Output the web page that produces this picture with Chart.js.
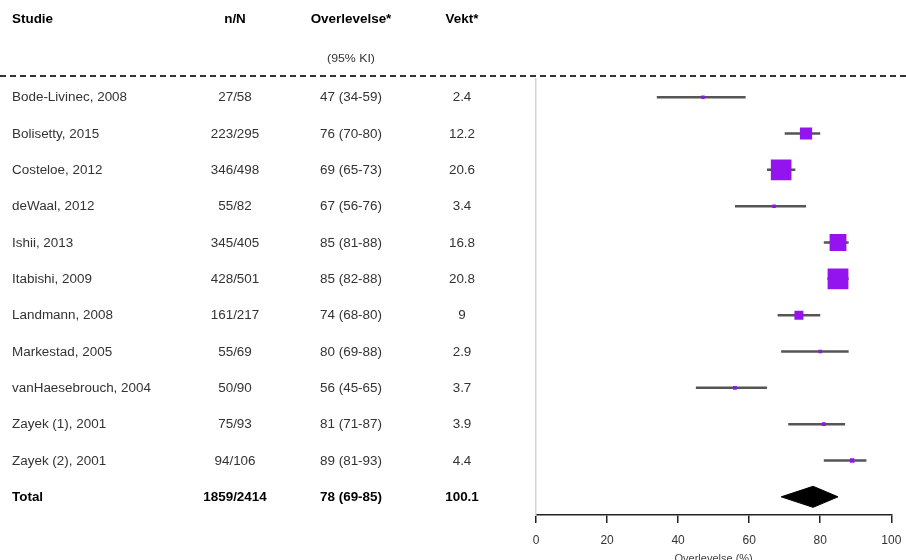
<!DOCTYPE html>
<html>
<head>
<meta charset="utf-8">
<script src="https://cdn.jsdelivr.net/npm/chart.js@4.4.1/dist/chart.umd.min.js"></script>
<style>
  html, body { margin: 0; padding: 0; background: #fff; }
  #wrap { width: 906px; height: 560px; }
</style>
</head>
<body>
<div id="wrap"><canvas id="forest"></canvas></div>
<script>
// studies in the meta-analysis
const studies = ['Bode-Livinec, 2008', 'Bolisetty, 2015', 'Costeloe, 2012', 'deWaal, 2012',
  'Ishii, 2013', 'Itabishi, 2009', 'Landmann, 2008', 'Markestad, 2005',
  'vanHaesebrouch, 2004', 'Zayek (1), 2001', 'Zayek (2), 2001'];
const nN = ['27/58', '223/295', '346/498', '55/82', '345/405', '428/501', '161/217',
  '55/69', '50/90', '75/93', '94/106'];
const est = [47, 76, 69, 67, 85, 85, 74, 80, 56, 81, 89];
const lo = [34, 70, 65, 56, 81, 82, 68, 69, 45, 71, 81];
const hi = [59, 80, 73, 76, 88, 88, 80, 88, 65, 87, 93];
const weight = [2.4, 12.2, 20.6, 3.4, 16.8, 20.8, 9, 2.9, 3.7, 3.9, 4.4];

// pooled estimate
const totalN = '1859/2414';
const totalEst = 78;
const totalLo = 69;
const totalHi = 85;
const totalWeight = 100.1;

const xTicks = [0, 20, 40, 60, 80, 100];

const totalRow = studies.length;
const purple = '#9414f0';
const fontFam = '"Liberation Sans", Arial, sans-serif';

const fmtCI = (e, l, h) => e + ' (' + l + '-' + h + ')';

// confidence interval whiskers, one small line per study
const ciSets = studies.map((s, i) => ({
  data: [{ x: lo[i], y: i }, { x: hi[i], y: i }],
  showLine: true,
  borderColor: '#555',
  borderWidth: 2.5,
  pointRadius: 0,
  order: 2
}));

// diamond for the pooled estimate
const dh = 0.29;
const diamond = {
  data: [
    { x: totalLo, y: totalRow }, { x: totalEst, y: totalRow - dh },
    { x: totalHi, y: totalRow }, { x: totalEst, y: totalRow + dh },
    { x: totalLo, y: totalRow }
  ],
  showLine: true,
  fill: 'shape',
  tension: 0,
  borderColor: '#000',
  backgroundColor: '#000',
  borderWidth: 1,
  pointRadius: 0,
  order: 1
};

// point estimates, square size follows study weight
const squares = {
  data: est.map((v, i) => ({ x: v, y: i })),
  pointStyle: 'rect',
  pointRadius: c => Math.max(weight[c.dataIndex], 3.5) / Math.SQRT2,
  pointBackgroundColor: purple,
  pointBorderWidth: 0,
  order: 0
};

// table text is a little wide, so stretch it horizontally
const stretch = 1.12;
function put(c, txt, x, y, align) {
  c.save();
  c.translate(x, y);
  c.scale(stretch, 1);
  c.textAlign = align;
  c.fillText(txt, 0, 0);
  c.restore();
}

// left-hand table plus header and dashed separator
const tablePlugin = {
  id: 'forestTable',
  afterDraw(chart) {
    const c = chart.ctx;
    const ys = chart.scales.y;
    const colN = 235, colCI = 351, colW = 462;
    c.save();
    c.textBaseline = 'middle';

    c.fillStyle = '#000';
    c.font = 'bold 12px ' + fontFam;
    put(c, 'Studie', 12, 20, 'left');
    put(c, 'n/N', colN, 20, 'center');
    put(c, 'Overlevelse*', colCI, 20, 'center');
    put(c, 'Vekt*', colW, 20, 'center');
    c.font = '11px ' + fontFam;
    c.fillStyle = '#333';
    put(c, '(95% KI)', colCI, 59, 'center');

    c.strokeStyle = '#333';
    c.lineWidth = 2;
    c.setLineDash([6, 4]);
    c.beginPath();
    c.moveTo(0, 76);
    c.lineTo(906, 76);
    c.stroke();
    c.setLineDash([]);

    c.font = '12px ' + fontFam;
    c.fillStyle = '#333';
    studies.forEach((s, i) => {
      const y = ys.getPixelForValue(i) + 1;
      put(c, s, 12, y, 'left');
      put(c, nN[i], colN, y, 'center');
      put(c, fmtCI(est[i], lo[i], hi[i]), colCI, y, 'center');
      put(c, String(weight[i]), colW, y, 'center');
    });

    const yt = ys.getPixelForValue(totalRow) + 1;
    c.font = 'bold 12px ' + fontFam;
    c.fillStyle = '#000';
    put(c, 'Total', 12, yt, 'left');
    put(c, totalN, colN, yt, 'center');
    put(c, fmtCI(totalEst, totalLo, totalHi), colCI, yt, 'center');
    put(c, totalWeight.toFixed(1), colW, yt, 'center');
    c.restore();
  }
};

new Chart(document.getElementById('forest'), {
  type: 'scatter',
  data: { datasets: [...ciSets, diamond, squares] },
  plugins: [tablePlugin],
  options: {
    responsive: true,
    maintainAspectRatio: false,
    animation: false,
    layout: { padding: { left: 536, top: 79, right: 14, bottom: 0 } },
    scales: {
      x: {
        type: 'linear',
        min: 0,
        max: 100,
        afterBuildTicks: s => { s.ticks = xTicks.map(v => ({ value: v })); },
        // fixed axis band so the plot area lines up with the table rows
        afterFit: s => { s.height = 45; s.paddingLeft = 0; s.paddingRight = 0; },
        ticks: { color: '#333', font: { size: 12, family: fontFam }, padding: 10 },
        grid: { drawOnChartArea: false, drawTicks: true, tickLength: 8, color: '#222', lineWidth: 1.5 },
        border: { color: '#222', width: 1.5 },
        title: {
          display: true,
          text: 'Overlevelse (%)',
          color: '#444',
          font: { size: 11, family: fontFam },
          padding: { top: 0, bottom: -6 }
        }
      },
      y: {
        type: 'linear',
        reverse: true,
        min: -0.5,
        max: 11.5,
        afterFit: s => { s.width = 0; },
        ticks: { display: false },
        grid: { drawOnChartArea: false, drawTicks: false },
        border: { color: '#d4d4d4', width: 1.5 }
      }
    },
    plugins: {
      legend: { display: false },
      tooltip: { enabled: false }
    }
  }
});
</script>
</body>
</html>
